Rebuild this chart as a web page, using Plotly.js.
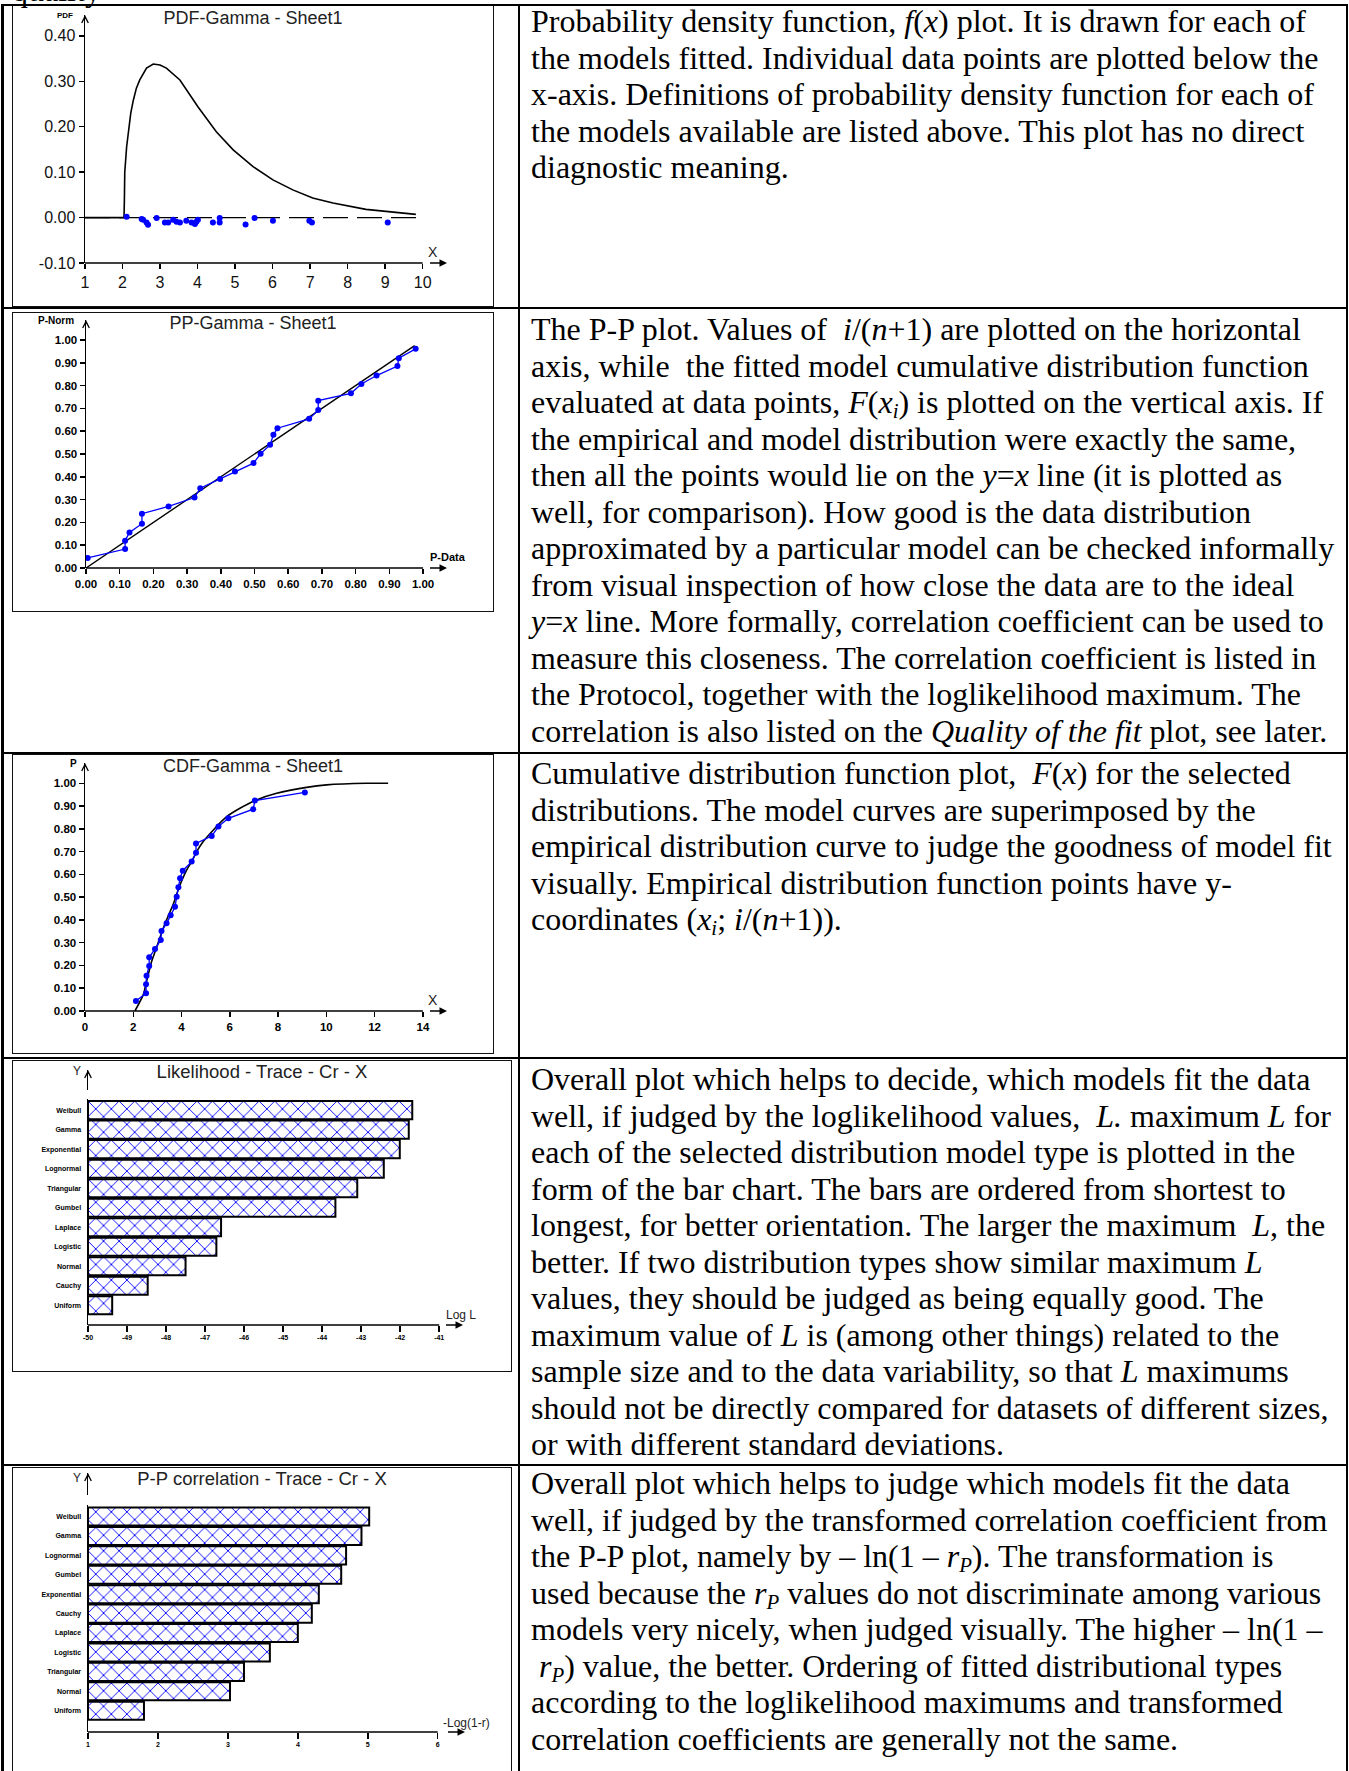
<!DOCTYPE html>
<html><head><meta charset="utf-8">
<script src="https://cdn.plot.ly/plotly-3.0.1.min.js"></script>
<style>
html,body{margin:0;padding:0;background:#fff;}
body{width:1349px;height:1771px;overflow:hidden;position:relative;}
.hl{position:absolute;left:1px;width:1347px;height:2px;background:#000;z-index:6;}
.vl{position:absolute;top:4px;width:2px;height:1767px;background:#000;z-index:6;}
.frame{position:absolute;border:1.5px solid #111;box-sizing:border-box;pointer-events:none;z-index:5;}
.plot{position:absolute;}
.txt{position:absolute;left:531px;font-family:"Liberation Serif","Times New Roman",serif;font-size:32px;line-height:36.5px;white-space:nowrap;color:#000;}
.txt sub{font-size:0.65em;line-height:0;vertical-align:-0.22em;}
</style></head>
<body>
<div class="txt" style="top:-28px;left:12px;">quality</div>

<div class="hl" style="top:4px"></div>
<div class="hl" style="top:307px"></div>
<div class="hl" style="top:752px"></div>
<div class="hl" style="top:1057px"></div>
<div class="hl" style="top:1464px"></div>
<div class="vl" style="left:1px;width:2.5px"></div>
<div class="vl" style="left:518px"></div>
<div class="vl" style="left:1346px"></div>

<div id="c1" class="plot"></div><div id="f1" class="frame"></div>
<div id="c2" class="plot"></div><div id="f2" class="frame"></div>
<div id="c3" class="plot"></div><div id="f3" class="frame"></div>
<div id="c4" class="plot"></div><div id="f4" class="frame"></div>
<div id="c5" class="plot"></div><div id="f5" class="frame"></div>

<div class="txt" style="top:3px">Probability density function, <i>f</i>(<i>x</i>) plot. It is drawn for each of<br>the models fitted. Individual data points are plotted below the<br>x-axis. Definitions of probability density function for each of<br>the models available are listed above. This plot has no direct<br>diagnostic meaning.</div>

<div class="txt" style="top:311px">The P-P plot. Values of &nbsp;<i>i</i>/(<i>n</i>+1) are plotted on the horizontal<br>axis, while &nbsp;the fitted model cumulative distribution function<br>evaluated at data points, <i>F</i>(<i>x<sub>i</sub></i>) is plotted on the vertical axis. If<br>the empirical and model distribution were exactly the same,<br>then all the points would lie on the <i>y</i>=<i>x</i> line (it is plotted as<br>well, for comparison). How good is the data distribution<br>approximated by a particular model can be checked informally<br>from visual inspection of how close the data are to the ideal<br><i>y</i>=<i>x</i> line. More formally, correlation coefficient can be used to<br>measure this closeness. The correlation coefficient is listed in<br>the Protocol, together with the loglikelihood maximum. The<br>correlation is also listed on the <i>Quality of the fit</i> plot, see later.</div>

<div class="txt" style="top:755px">Cumulative distribution function plot, &nbsp;<i>F</i>(<i>x</i>) for the selected<br>distributions. The model curves are superimposed by the<br>empirical distribution curve to judge the goodness of model fit<br>visually. Empirical distribution function points have y-<br>coordinates (<i>x<sub>i</sub></i>; <i>i</i>/(<i>n</i>+1)).</div>

<div class="txt" style="top:1061px">Overall plot which helps to decide, which models fit the data<br>well, if judged by the loglikelihood values, &nbsp;<i>L.</i> maximum <i>L</i> for<br>each of the selected distribution model type is plotted in the<br>form of the bar chart. The bars are ordered from shortest to<br>longest, for better orientation. The larger the maximum &nbsp;<i>L</i>, the<br>better. If two distribution types show similar maximum <i>L</i><br>values, they should be judged as being equally good. The<br>maximum value of <i>L</i> is (among other things) related to the<br>sample size and to the data variability, so that <i>L</i> maximums<br>should not be directly compared for datasets of different sizes,<br>or with different standard deviations.</div>

<div class="txt" style="top:1465px">Overall plot which helps to judge which models fit the data<br>well, if judged by the transformed correlation coefficient from<br>the P-P plot, namely by – ln(1 – <i>r<sub>P</sub></i>). The transformation is<br>used because the <i>r<sub>P</sub></i> values do not discriminate among various<br>models very nicely, when judged visually. The higher – ln(1 –<br>&nbsp;<i>r<sub>P</sub></i>) value, the better. Ordering of fitted distributional types<br>according to the loglikelihood maximums and transformed<br>correlation coefficients are generally not the same.</div>

<script>
// ---------------- DATA ----------------
// PDF-Gamma
const pdfCurveX = [1, 2.04, 2.05, 2.06, 2.11, 2.15, 2.22, 2.29, 2.37, 2.46, 2.64, 2.82, 3.00, 3.17, 3.53, 4.01, 4.50, 4.95, 5.48, 6.01, 6.54, 7.07, 7.61, 8.49, 9.02, 9.82];
const pdfCurveY = [0, 0, 0.04, 0.10, 0.156, 0.186, 0.23, 0.259, 0.285, 0.303, 0.329, 0.338, 0.336, 0.329, 0.303, 0.244, 0.189, 0.149, 0.112, 0.083, 0.061, 0.043, 0.032, 0.018, 0.013, 0.007];
const pdfDataX = [2.11, 2.51, 2.55, 2.64, 2.68, 2.91, 3.13, 3.22, 3.35, 3.44, 3.53, 3.70, 3.84, 3.93, 3.97, 4.01, 4.41, 4.59, 4.59, 5.28, 5.52, 6.01, 6.98, 7.05, 9.07];
const pdfDataY = [0.002, -0.003, -0.005, -0.011, -0.016, -0.001, -0.011, -0.011, -0.005, -0.009, -0.011, -0.007, -0.011, -0.014, -0.009, -0.005, -0.011, -0.011, -0.001, -0.015, -0.001, -0.007, -0.007, -0.011, -0.011];
const pdfXTicks = [1, 2, 3, 4, 5, 6, 7, 8, 9, 10];
const pdfYTicks = [-0.10, 0.00, 0.10, 0.20, 0.30, 0.40];

// PP-Gamma
const ppX = [0.005, 0.116, 0.116, 0.129, 0.166, 0.166, 0.245, 0.322, 0.339, 0.398, 0.442, 0.497, 0.518, 0.546, 0.556, 0.568, 0.662, 0.689, 0.689, 0.786, 0.817, 0.862, 0.924, 0.928, 0.978];
const ppY = [0.044, 0.083, 0.120, 0.156, 0.194, 0.238, 0.270, 0.309, 0.350, 0.390, 0.423, 0.460, 0.501, 0.540, 0.584, 0.613, 0.654, 0.693, 0.734, 0.766, 0.807, 0.844, 0.886, 0.920, 0.961];
const ppRefX = [0, 0.975];
const ppRefY = [0, 0.975];
const ppTicks = [0, 0.1, 0.2, 0.3, 0.4, 0.5, 0.6, 0.7, 0.8, 0.9, 1.0];

// CDF-Gamma
const cdfCurveX = [2.07, 2.42, 2.55, 2.76, 2.97, 3.18, 3.38, 3.66, 3.87, 4.00, 4.21, 4.42, 4.63, 4.90, 5.32, 5.87, 6.42, 7.11, 7.94, 9.18, 10.01, 11.67, 12.56];
const cdfCurveY = [0, 0.073, 0.129, 0.217, 0.28, 0.345, 0.40, 0.47, 0.535, 0.57, 0.619, 0.656, 0.70, 0.744, 0.795, 0.853, 0.89, 0.927, 0.956, 0.982, 0.993, 1.0, 1.0];
const cdfX = [2.11, 2.53, 2.53, 2.55, 2.66, 2.66, 2.90, 3.14, 3.17, 3.38, 3.55, 3.73, 3.80, 3.87, 3.94, 4.05, 4.42, 4.60, 4.60, 5.25, 5.53, 5.94, 6.97, 7.04, 9.11];
const cdfY = [0.044, 0.078, 0.117, 0.155, 0.198, 0.236, 0.272, 0.312, 0.351, 0.385, 0.420, 0.458, 0.502, 0.543, 0.583, 0.616, 0.656, 0.695, 0.736, 0.768, 0.810, 0.846, 0.886, 0.924, 0.960];
const cdfXTicks = [0, 2, 4, 6, 8, 10, 12, 14];
const cdfYTicks = [0, 0.1, 0.2, 0.3, 0.4, 0.5, 0.6, 0.7, 0.8, 0.9, 1.0];

// Likelihood (top to bottom)
const likeCats = ["Weibull", "Gamma", "Exponential", "Lognormal", "Triangular", "Gumbel", "Laplace", "Logistic", "Normal", "Cauchy", "Uniform"];
const likeVals = [-41.69, -41.78, -42.01, -42.42, -43.10, -43.66, -46.59, -46.71, -47.50, -48.47, -49.38];
const likeTicks = [-50, -49, -48, -47, -46, -45, -44, -43, -42, -41];

// P-P correlation (top to bottom)
const corrCats = ["Weibull", "Gamma", "Lognormal", "Gumbel", "Exponential", "Cauchy", "Laplace", "Logistic", "Triangular", "Normal", "Uniform"];
const corrVals = [5.02, 4.91, 4.69, 4.62, 4.30, 4.20, 4.00, 3.60, 3.23, 3.03, 1.80];
const corrTicks = [1, 2, 3, 4, 5, 6];

// ---------------- STYLE / LAYOUT ----------------
const SANS = '"Liberation Sans", Arial, sans-serif';
const NARROW = '"Liberation Sans Narrow", "Liberation Sans", Arial, sans-serif';
const BLUE = '#0000ff';
const CFG = {staticPlot: true, displayModeBar: false};

function place(id, fid, f) {
  for (const k of [id, fid]) {
    const el = document.getElementById(k);
    el.style.left = f.x + 'px'; el.style.top = f.y + 'px';
    el.style.width = f.w + 'px'; el.style.height = f.h + 'px';
  }
}
function lab(text, rx, ry, f, m, font) {
  const pw = f.w - m.l - m.r, ph = f.h - m.t - m.b;
  return {xref: 'paper', yref: 'paper', x: (rx - m.l) / pw, y: 1 - (ry - m.t) / ph,
          text: text, showarrow: false, xanchor: 'center', yanchor: 'middle', font: font};
}
function arrows() {
  return [
    {xref: 'paper', yref: 'paper', x: 0, y: 1, ax: 0, ay: 14, showarrow: true, arrowhead: 5, arrowsize: 1, arrowwidth: 1.3, arrowcolor: '#000'},
    {xref: 'paper', yref: 'paper', x: 1, y: 0, ax: -20, ay: 0, showarrow: true, arrowhead: 2, arrowsize: 1, arrowwidth: 1.5, arrowcolor: '#000'}
  ];
}
function titleObj(text, ry, f, size) {
  return {text: text, x: 0.5, xref: 'container', xanchor: 'center', y: 1 - ry / f.h, yref: 'container', yanchor: 'middle',
          font: {family: SANS, size: size, color: '#222'}};
}
function baseLayout(f, m) {
  return {width: f.w, height: f.h, margin: {l: m.l, r: m.r, t: m.t, b: m.b, pad: 0}, autosize: false,
          paper_bgcolor: 'rgba(0,0,0,0)', plot_bgcolor: 'rgba(0,0,0,0)', showlegend: false, hovermode: false};
}
function axBase(extra) {
  return Object.assign({showgrid: false, zeroline: false, ticks: 'outside', ticklen: 5, tickwidth: 1.5, tickcolor: '#000', fixedrange: true}, extra);
}
function xLine(x0, x1) {
  return {type: 'line', xref: 'x', yref: 'paper', x0: x0, x1: x1, y0: 0, y1: 0, line: {color: '#000', width: 1.5}};
}

// ---------- Chart 1: PDF ----------
(function () {
  const f = {x: 12, y: 5, w: 482, h: 302}, m = {l: 73, r: 46.6, t: 10, b: 44};
  place('c1', 'f1', f);
  const tf = {family: SANS, size: 16, color: '#111'};
  const lay = baseLayout(f, m);
  lay.title = titleObj('PDF-Gamma - Sheet1', 13, f, 18);
  lay.xaxis = axBase({range: [1, 10.65], tickvals: pdfXTicks, ticktext: pdfXTicks.map(String), showline: false, tickfont: tf});
  lay.yaxis = axBase({range: [-0.10, 0.446], tickvals: pdfYTicks, ticktext: pdfYTicks.map(v => v.toFixed(2)), showline: true, linecolor: '#000', linewidth: 1.5, tickfont: tf});
  lay.shapes = [xLine(pdfXTicks[0], pdfXTicks[pdfXTicks.length - 1])];
  lay.annotations = arrows().concat([
    lab('PDF', 53, 10, f, m, {family: SANS, size: 8, color: '#000', weight: 'bold'}),
    lab('X', 421, 247, f, m, {family: SANS, size: 14, color: '#222'})
  ]);
  Plotly.newPlot('c1', [
    {x: [pdfXTicks[0], pdfXTicks[pdfXTicks.length - 1]], y: [0, 0], mode: 'lines', line: {color: '#000', width: 1.2, dash: '25px,9px'}},
    {x: pdfCurveX, y: pdfCurveY, mode: 'lines', line: {color: '#000', width: 1.6}},
    {x: pdfDataX, y: pdfDataY, mode: 'markers', marker: {color: BLUE, size: 6}}
  ], lay, CFG);
})();

// ---------- Chart 2: PP ----------
(function () {
  const f = {x: 12, y: 312, w: 482, h: 300}, m = {l: 74, r: 47, t: 8, b: 43.7};
  place('c2', 'f2', f);
  const tf = {family: NARROW, size: 11.5, color: '#000', weight: 'bold'};
  const lay = baseLayout(f, m);
  lay.title = titleObj('PP-Gamma - Sheet1', 11, f, 18);
  lay.xaxis = axBase({range: [0, 1.071], tickvals: ppTicks, ticktext: ppTicks.map(v => v.toFixed(2)), showline: false, tickfont: tf});
  lay.yaxis = axBase({range: [0, 1.0876], tickvals: ppTicks, ticktext: ppTicks.map(v => v.toFixed(2)), showline: true, linecolor: '#000', linewidth: 1.5, tickfont: tf});
  lay.shapes = [xLine(ppTicks[0], ppTicks[ppTicks.length - 1])];
  lay.annotations = arrows().concat([
    lab('P-Norm', 44, 9, f, m, {family: NARROW, size: 10, color: '#000', weight: 'bold'}),
    lab('P-Data', 436, 245, f, m, {family: NARROW, size: 11, color: '#000', weight: 'bold'})
  ]);
  Plotly.newPlot('c2', [
    {x: ppRefX, y: ppRefY, mode: 'lines', line: {color: '#000', width: 1.4}},
    {x: ppX, y: ppY, mode: 'lines+markers', line: {color: BLUE, width: 1.3}, marker: {color: BLUE, size: 6}}
  ], lay, CFG);
})();

// ---------- Chart 3: CDF ----------
(function () {
  const f = {x: 12, y: 754, w: 482, h: 300}, m = {l: 73, r: 47, t: 9, b: 43};
  place('c3', 'f3', f);
  const tf = {family: NARROW, size: 11.5, color: '#000', weight: 'bold'};
  const lay = baseLayout(f, m);
  lay.title = titleObj('CDF-Gamma - Sheet1', 12, f, 18);
  lay.xaxis = axBase({range: [0, 15.0], tickvals: cdfXTicks, ticktext: cdfXTicks.map(String), showline: false, tickfont: tf});
  lay.yaxis = axBase({range: [0, 1.089], tickvals: cdfYTicks, ticktext: cdfYTicks.map(v => v.toFixed(2)), showline: true, linecolor: '#000', linewidth: 1.5, tickfont: tf});
  lay.shapes = [xLine(cdfXTicks[0], cdfXTicks[cdfXTicks.length - 1])];
  lay.annotations = arrows().concat([
    lab('P', 61, 9, f, m, {family: NARROW, size: 10, color: '#000', weight: 'bold'}),
    lab('X', 421, 246, f, m, {family: SANS, size: 14, color: '#222'})
  ]);
  Plotly.newPlot('c3', [
    {x: cdfCurveX, y: cdfCurveY, mode: 'lines', line: {color: '#000', width: 1.6, shape: 'spline', smoothing: 0.6}},
    {x: cdfX, y: cdfY, mode: 'lines+markers', line: {color: BLUE, width: 1.3}, marker: {color: BLUE, size: 6}}
  ], lay, CFG);
})();

// ---------- bar charts ----------
function barChart(id, fid, f, m, cats, vals, ticks, title, xlab, xlabPos, yRange, xMax, gap) {
  place(id, fid, f);
  const base = ticks[0];
  const catsUp = cats.slice().reverse();
  const valsUp = vals.slice().reverse();
  const tf = {family: SANS, size: 7, color: '#000', weight: 'bold'};
  const lay = baseLayout(f, m);
  const ph = f.h - m.t - m.b;
  lay.bargap = 0.07;
  lay.title = titleObj(title, 12, f, 18.5);
  lay.xaxis = axBase({range: [base, xMax], tickvals: ticks, ticktext: ticks.map(String), showline: false, tickfont: tf, ticklen: 6});
  lay.yaxis = {type: 'category', categoryorder: 'array', categoryarray: catsUp, range: yRange, showgrid: false, zeroline: false,
               showline: true, linecolor: '#000', linewidth: 1.5, ticks: 'outside', ticklen: 4, tickcolor: 'rgba(0,0,0,0)', tickfont: tf, fixedrange: true};
  lay.shapes = [
    xLine(ticks[0], ticks[ticks.length - 1]),
    {type: 'line', xref: 'paper', yref: 'paper', x0: 0, x1: 0, y0: 1 - (gap[1] - m.t) / ph, y1: 1 - (gap[0] - m.t) / ph,
     line: {color: '#ffffff', width: 4}, layer: 'above'}
  ];
  lay.annotations = arrows().concat([
    lab('Y', 65, 11, f, m, {family: SANS, size: 12, color: '#222'}),
    lab(xlab, xlabPos[0], xlabPos[1], f, m, {family: SANS, size: 12, color: '#222'})
  ]);
  Plotly.newPlot(id, [{
    type: 'bar', orientation: 'h', y: catsUp, x: valsUp.map(v => v - base), base: base,
    marker: {color: '#ffffff', line: {color: '#000', width: 2},
             pattern: {shape: 'x', fgcolor: BLUE, bgcolor: '#ffffff', size: 11, solidity: 0.16}}
  }], lay, CFG);
}
barChart('c4', 'f4', {x: 12, y: 1060, w: 500, h: 312}, {l: 76, r: 49, t: 10, b: 47},
  likeCats, likeVals, likeTicks, 'Likelihood - Trace - Cr - X', 'Log L', [449, 255], [-1.013, 12.06], -40.39, [30, 39]);
barChart('c5', 'f5', {x: 12, y: 1467, w: 500, h: 340}, {l: 76, r: 47, t: 6, b: 74.7},
  corrCats, corrVals, corrTicks, 'P-P correlation - Trace - Cr - X', '-Log(1-r)', [454, 256], [-1.095, 12.24], 6.39, [28, 38]);
</script>
</body></html>
